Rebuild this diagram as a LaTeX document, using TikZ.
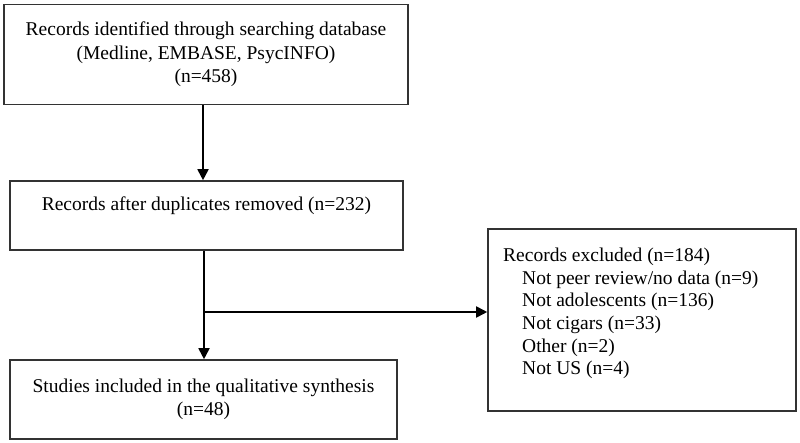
\documentclass[tikz,border=0pt]{standalone}
\usepackage{fontspec}
\setmainfont{Liberation Serif}
\usetikzlibrary{arrows.meta}
\begin{document}
\begin{tikzpicture}[x=1pt,y=-1pt,
  box/.style={draw=black!80,line width=1.6pt,rectangle,inner sep=0pt,align=center,
    font=\fontsize{19.5}{23.5}\selectfont},
  conn/.style={line width=1.8pt,-{Triangle[length=11pt,width=11pt]}}]
\useasboundingbox (0,0) rectangle (800,443);
\node[box,minimum width=404pt,minimum height=100pt] (b1) at (206,54.5)
  {Records identified through searching database\\(Medline, EMBASE, PsycINFO)\\(n=458)};
\node[box,minimum width=393pt,minimum height=69pt] (b2) at (206.5,215.5)
  {Records after duplicates removed (n=232)\\\mbox{}};
\node[box,minimum width=387pt,minimum height=79pt] (b3) at (203.5,399.5)
  {Studies included in the qualitative synthesis\\(n=48)};
\node[box,minimum width=308pt,minimum height=182pt] (b4) at (642,320) {};
\node[anchor=north west,inner sep=0pt,align=left,font=\fontsize{19.5}{22.6}\selectfont] (t4) at (503,248)
  {Records excluded (n=184)\\
   \hspace*{19pt}Not peer review/no data (n=9)\\
   \hspace*{19pt}Not adolescents (n=136)\\
   \hspace*{19pt}Not cigars (n=33)\\
   \hspace*{19pt}Other (n=2)\\
   \hspace*{19pt}Not US (n=4)};
\coordinate (xa) at (203,0);
\coordinate (xb) at (204,0);
\coordinate (j) at (204,312);
\draw[conn] (b1.south -| xa) -- (b2.north -| xa);
\draw[line width=1.8pt] (b2.south -| xb) -- (j);
\draw[conn] (j) -- (b3.north -| j);
\draw[conn] (j) -- (b4.west |- j);
\end{tikzpicture}
\end{document}
